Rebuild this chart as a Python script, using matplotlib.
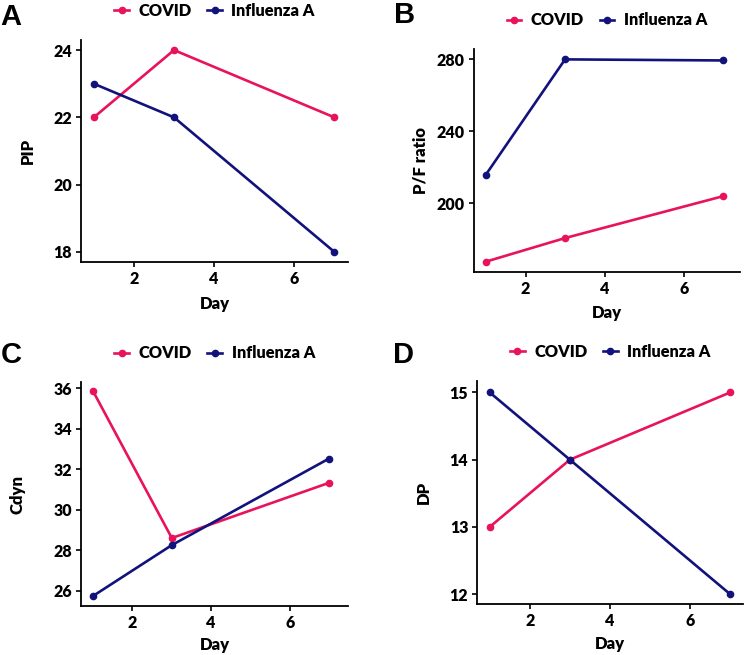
import matplotlib
matplotlib.use("Agg")
import matplotlib.pyplot as plt

plt.rcParams["font.family"] = ["Lato", "DejaVu Sans"]
plt.rcParams["font.weight"] = "heavy"

days = [1, 3, 7]
series_names = ["COVID", "Influenza A"]

pip_covid = [22, 24, 22]
pip_flu = [23, 22, 18]

pf_covid = [167.6, 180.7, 204]
pf_flu = [216, 280, 279.4]

cdyn_covid = [35.85, 28.6, 31.33]
cdyn_flu = [25.74, 28.25, 32.53]

dp_covid = [13, 14, 15]
dp_flu = [15, 14, 12]

COVID_COLOR = "#E8135A"
FLU_COLOR = "#12127C"
WEIGHT = "heavy"

W, H = 744, 655

# box = (left, top, right, bottom) in pixels of the figure
panels = [
    dict(box=(81, 40, 348, 262), xlim=(0.68, 7.34), ylim=(17.7, 24.3),
         yticks=[18, 20, 22, 24], ylabel="PIP", letter="A", lpos=(0, 17),
         ylx=-0.20, xly=-0.19, data=(pip_covid, pip_flu)),
    dict(box=(473.7, 49.3, 740.3, 271.7), xlim=(0.69, 7.43), ylim=(162, 285.6),
         yticks=[200, 240, 280], ylabel="P/F ratio", letter="B", lpos=(394, 15),
         ylx=-0.20, xly=-0.187, data=(pf_covid, pf_flu)),
    dict(box=(81, 382.3, 348.3, 606), xlim=(0.69, 7.49), ylim=(25.24, 36.3),
         yticks=[26, 28, 30, 32, 34, 36], ylabel="Cdyn", letter="C", lpos=(1, 355),
         ylx=-0.236, xly=-0.175, data=(cdyn_covid, cdyn_flu)),
    dict(box=(477.3, 381, 743, 604.3), xlim=(0.69, 7.32), ylim=(11.85, 15.17),
         yticks=[12, 13, 14, 15], ylabel="DP", letter="D", lpos=(393, 355),
         ylx=-0.20, xly=-0.18, data=(dp_covid, dp_flu)),
]

fig = plt.figure(figsize=(W / 100, H / 100), dpi=100)

for p in panels:
    l, t, r, b = p["box"]
    ax = fig.add_axes([l / W, 1 - b / H, (r - l) / W, (b - t) / H])
    covid, flu = p["data"]
    ax.plot(days, covid, color=COVID_COLOR, lw=1.9, marker="o", ms=4.5,
            label=series_names[0])
    ax.plot(days, flu, color=FLU_COLOR, lw=1.9, marker="o", ms=4.5,
            label=series_names[1])
    ax.set_xlim(*p["xlim"])
    ax.set_ylim(*p["ylim"])
    ax.set_xticks([2, 4, 6])
    ax.set_yticks(p["yticks"])
    for side in ("top", "right"):
        ax.spines[side].set_visible(False)
    for side in ("left", "bottom"):
        ax.spines[side].set_linewidth(1.3)
        ax.spines[side].set_color("black")
    ax.tick_params(length=3.5, width=1.2, pad=3, labelsize=11.5, colors="black")
    for lab in ax.get_xticklabels() + ax.get_yticklabels():
        lab.set_fontweight(WEIGHT)
    ax.set_xlabel("Day", fontsize=12, fontweight=WEIGHT)
    ax.set_ylabel(p["ylabel"], fontsize=12, fontweight=WEIGHT)
    ax.xaxis.set_label_coords(0.5, p["xly"])
    ax.yaxis.set_label_coords(p["ylx"], 0.5)
    ax.xaxis.label.set_va("center")
    ax.yaxis.label.set_va("center")

    ax_h = b - t
    ax.legend(loc="center", bbox_to_anchor=(0.5, 1 + 29 / ax_h), ncol=2,
              frameon=False, handlelength=0.9, handletextpad=0.58,
              columnspacing=0.95, borderaxespad=0,
              prop=dict(family=["Lato", "DejaVu Sans"], weight=WEIGHT, size=11.8))

    lx, ly = p["lpos"]
    fig.text(lx / W, 1 - ly / H, p["letter"], ha="left", va="center",
             fontsize=21, fontweight="bold", family=["Liberation Sans", "DejaVu Sans"])

fig.savefig("out.png", dpi=100)
